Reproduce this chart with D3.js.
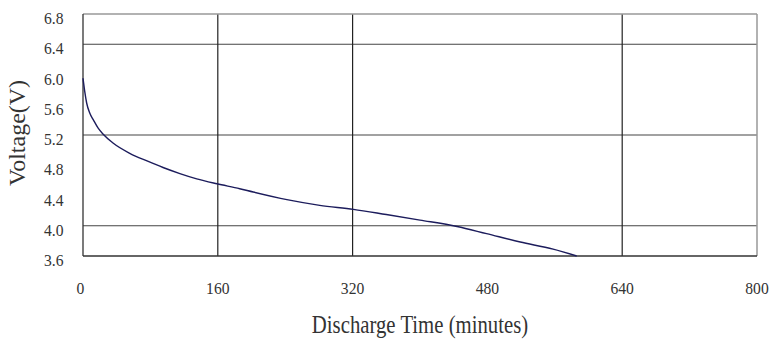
<!DOCTYPE html>
<html>
<head>
<meta charset="utf-8">
<script src="https://cdn.jsdelivr.net/npm/d3@7"></script>
<style>
  body { margin: 0; background: #fff; }
  text { font-family: "Liberation Serif", "Times New Roman", serif; fill: #333; }
</style>
</head>
<body>
<div id="chart"></div>
<script>
// Discharge curve
const timeMin = [0, 2, 4.4, 8, 12.3, 18, 24, 36, 56, 76, 95, 115, 135, 159, 186, 202, 242, 281, 321, 360, 400, 444, 479, 519, 558, 586];
const voltage = [5.95, 5.78, 5.62, 5.49, 5.40, 5.29, 5.21, 5.09, 4.955, 4.857, 4.77, 4.69, 4.62, 4.555, 4.49, 4.446, 4.345, 4.27, 4.217, 4.148, 4.075, 3.99, 3.895, 3.785, 3.69, 3.6];

const xTicks = [0, 160, 320, 480, 640, 800];
const yTicks = [3.6, 4.0, 4.4, 4.8, 5.2, 5.6, 6.0, 6.4, 6.8];
const xGrid = [160, 320, 640];
const yGrid = [6.4, 5.2, 4.0];

const W = 772, H = 342;
const tickSquash = 0.92;  // tick text is a bit narrowed in the picture
const titleSquash = 0.83; // axis title even more

const svg = d3.select("#chart").append("svg")
    .attr("width", W)
    .attr("height", H);

const x = d3.scaleLinear().domain([0, 800]).range([83, 757]);
const y = d3.scaleLinear().domain([3.6, 6.8]).range([256, 14]);

// grid lines
svg.selectAll("line.hgrid")
    .data(yGrid)
    .enter()
    .append("line")
    .attr("class", "hgrid")
    .attr("x1", x(0)).attr("x2", x(800))
    .attr("y1", d => y(d)).attr("y2", d => y(d))
    .attr("stroke", "#444")
    .attr("stroke-width", 1.2);

svg.selectAll("line.vgrid")
    .data(xGrid)
    .enter()
    .append("line")
    .attr("class", "vgrid")
    .attr("x1", d => x(d)).attr("x2", d => x(d))
    .attr("y1", y(6.8)).attr("y2", y(3.6))
    .attr("stroke", "#222")
    .attr("stroke-width", 1.2);

// frame: top/right light, left/bottom dark
svg.append("line")
    .attr("x1", x(0)).attr("x2", x(800)).attr("y1", y(6.8)).attr("y2", y(6.8))
    .attr("stroke", "#999").attr("stroke-width", 1.5);
svg.append("line")
    .attr("x1", x(800)).attr("x2", x(800)).attr("y1", y(6.8)).attr("y2", y(3.6))
    .attr("stroke", "#999").attr("stroke-width", 1.5);
svg.append("line")
    .attr("x1", x(0)).attr("x2", x(0)).attr("y1", y(6.8)).attr("y2", y(3.6))
    .attr("stroke", "#333").attr("stroke-width", 1.3);
svg.append("line")
    .attr("x1", x(0)).attr("x2", x(800)).attr("y1", y(3.6)).attr("y2", y(3.6))
    .attr("stroke", "#333").attr("stroke-width", 1.3);

// curve
const pts = timeMin.map((t, i) => [t, voltage[i]]);
const line = d3.line()
    .x(d => x(d[0]))
    .y(d => y(d[1]))
    .curve(d3.curveMonotoneX);

svg.append("path")
    .datum(pts)
    .attr("d", line)
    .attr("fill", "none")
    .attr("stroke", "#1c1c5c")
    .attr("stroke-width", 1.4);

// tick labels
svg.selectAll("text.ytick")
    .data(yTicks)
    .enter()
    .append("text")
    .attr("class", "ytick")
    .attr("transform", d => `translate(63.5,${y(d) + 10}) scale(${tickSquash},1)`)
    .attr("text-anchor", "end")
    .attr("font-size", 17)
    .text(d3.format(".1f"));

svg.selectAll("text.xtick")
    .data(xTicks)
    .enter()
    .append("text")
    .attr("class", "xtick")
    .attr("transform", d => `translate(${x(d) - (d === 0 ? 2.5 : 0)},294) scale(${tickSquash},1)`)
    .attr("text-anchor", "middle")
    .attr("font-size", 17)
    .text(d => d);

// axis titles
svg.append("text")
    .attr("transform", `translate(${x(400)},333) scale(${titleSquash},1)`)
    .attr("text-anchor", "middle")
    .attr("font-size", 25)
    .text("Discharge Time (minutes)");

svg.append("text")
    .attr("transform", `translate(25,133) rotate(-90)`)
    .attr("text-anchor", "middle")
    .attr("font-size", 24)
    .text("Voltage(V)");
</script>
</body>
</html>
